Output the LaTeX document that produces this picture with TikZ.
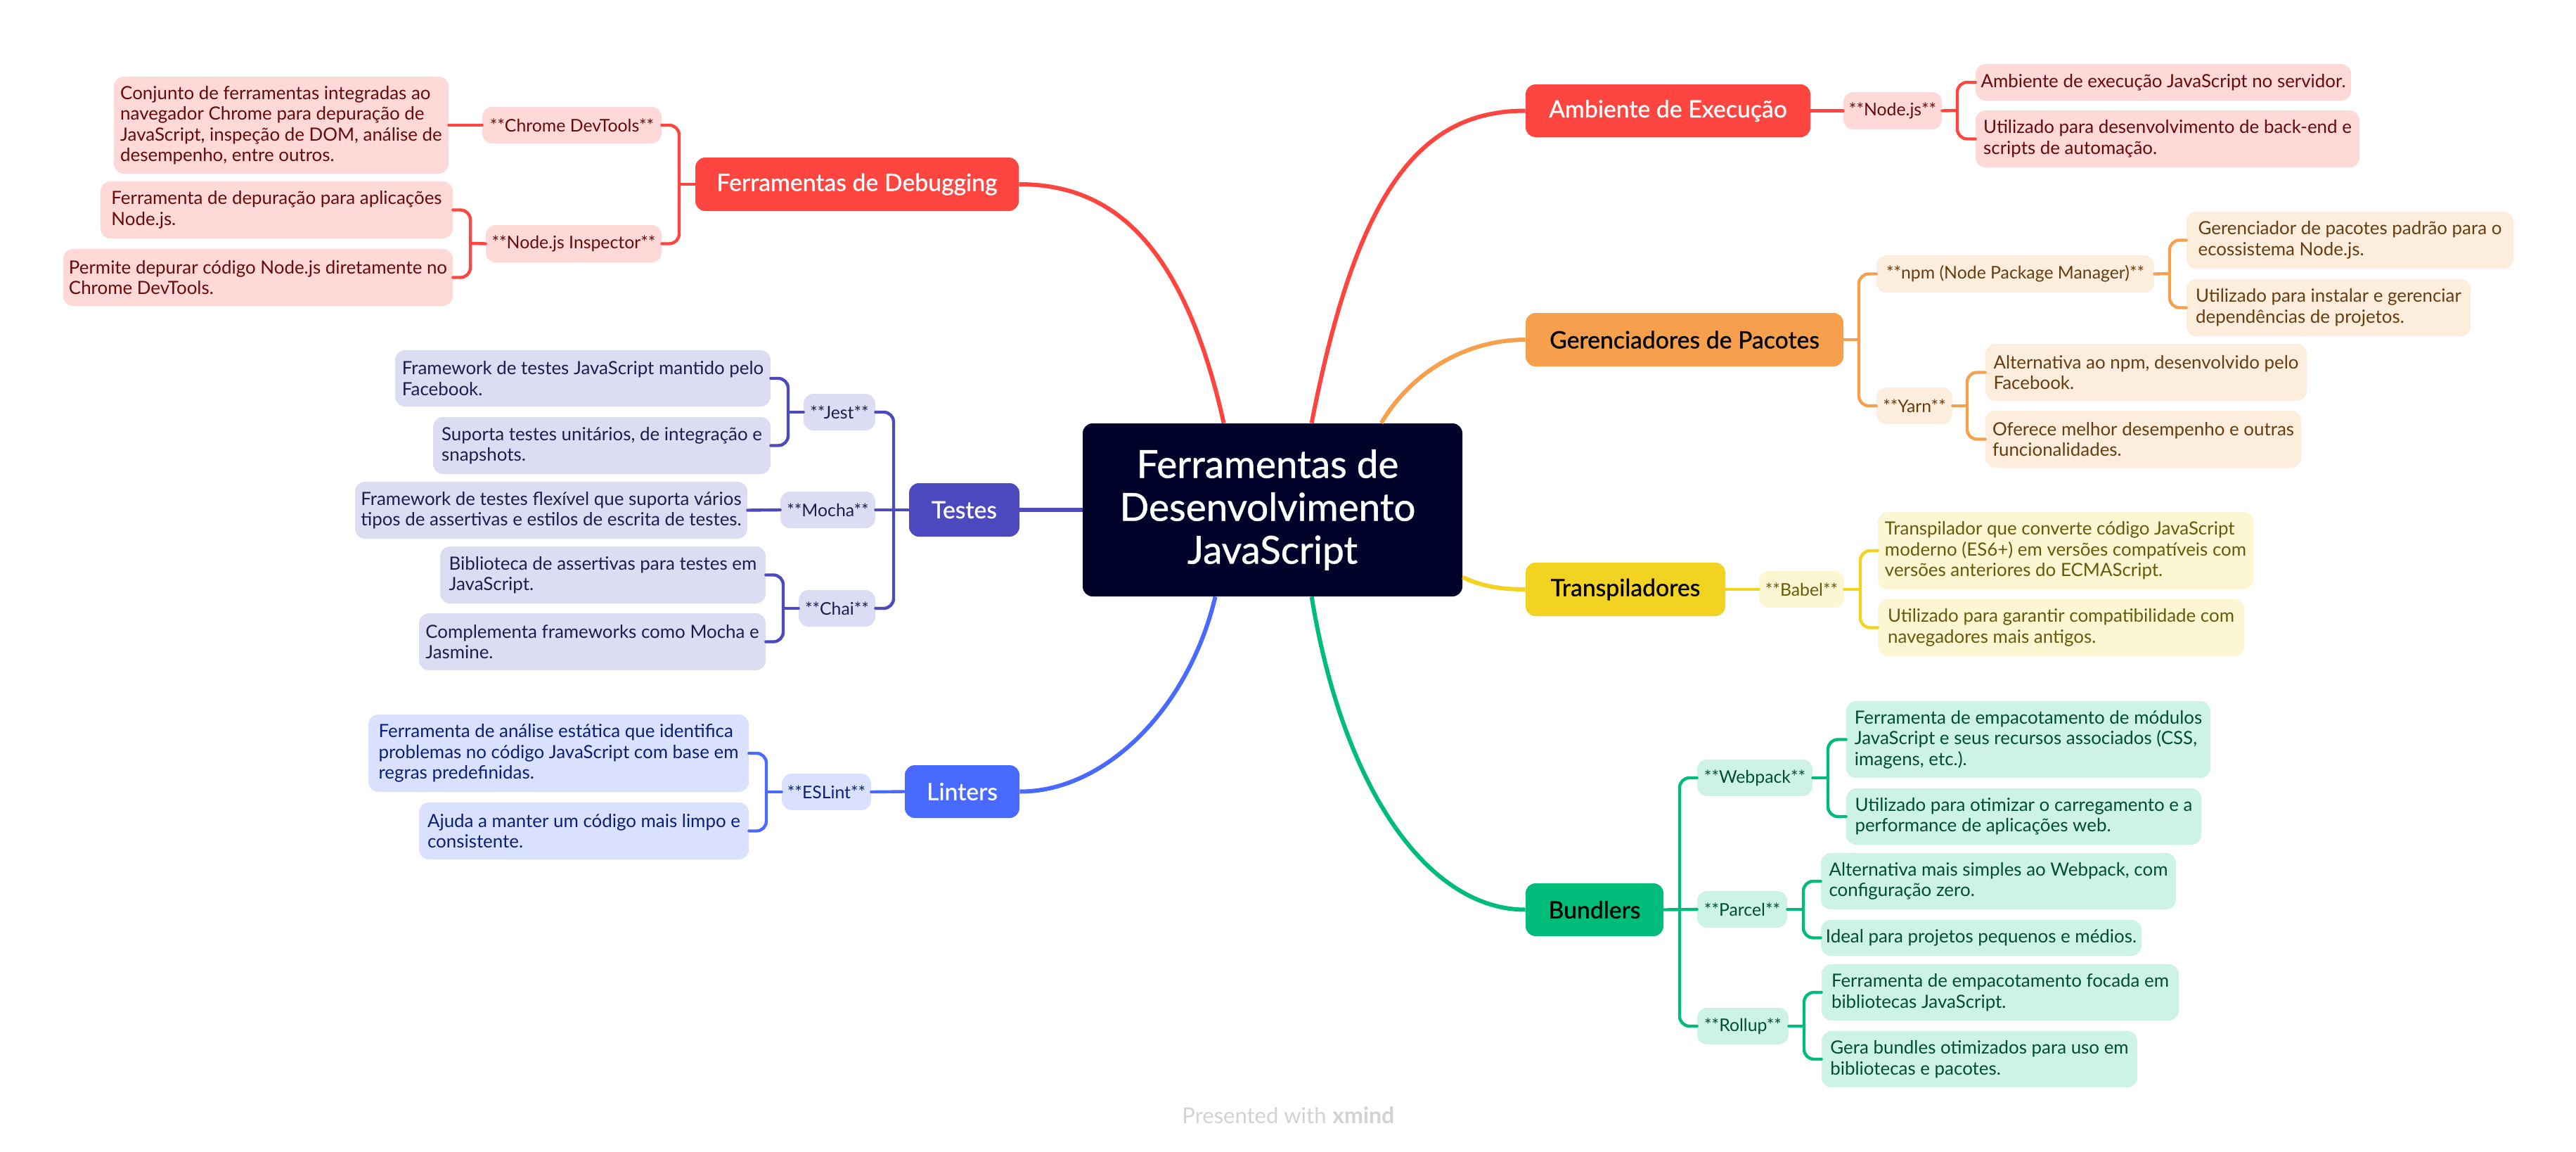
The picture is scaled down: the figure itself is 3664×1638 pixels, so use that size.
\documentclass[tikz,border=0pt]{standalone}
\usepackage{fontspec}
\setmainfont{Lato}
\usetikzlibrary{calc}
\newfontfamily\topicfont[FakeBold=0.9]{Lato}
\definecolor{cred}{HTML}{FF453F}
\definecolor{corange}{HTML}{F6A04D}
\definecolor{cyellow}{HTML}{F3D321}
\definecolor{cgreen}{HTML}{00BC7B}
\definecolor{cindigo}{HTML}{4D49BE}
\definecolor{cblue}{HTML}{486AFF}
\definecolor{cdark}{HTML}{000229}
\definecolor{lred}{HTML}{FFD9D8}
\definecolor{lorange}{HTML}{FDEDDD}
\definecolor{lyellow}{HTML}{FDF6D3}
\definecolor{lgreen}{HTML}{CCF3E3}
\definecolor{lindigo}{HTML}{DCDCF2}
\definecolor{lblue}{HTML}{DAE1FF}
\definecolor{tred}{HTML}{660A0A}
\definecolor{torange}{HTML}{663D10}
\definecolor{tyellow}{HTML}{665A0A}
\definecolor{tgreen}{HTML}{004D33}
\definecolor{tindigo}{HTML}{1F1D4C}
\definecolor{tblue}{HTML}{0A1F78}
\definecolor{cfoot}{HTML}{D2D2D2}
\newcommand{\leaffont}{\fontsize{12.95}{14.75}\selectfont}
\newcommand{\lab}[1]{{\fontsize{12.4}{14.75}\selectfont #1}}
\newcommand{\topfont}{\topicfont\fontsize{16.9}{19}\selectfont}
\newcommand{\bx}[7]{\node[#2,minimum width={(#5-#3)*0.5pt},minimum height={(#6-#4)*0.5pt}] (#1) at ({(#3+#5)/2},{(#4+#6)/2}) {#7};}
\tikzset{
  box/.style={rounded corners=7pt,inner sep=0pt,align=left,font=\leaffont},
  topic/.style={box,font=\topfont,align=center},
  lr/.style={box,fill=lred,text=tred},
  lo/.style={box,fill=lorange,text=torange},
  ly/.style={box,fill=lyellow,text=tyellow},
  lg/.style={box,fill=lgreen,text=tgreen},
  li/.style={box,fill=lindigo,text=tindigo},
  lb/.style={box,fill=lblue,text=tblue},
  link/.style={line width=2.2pt,line cap=round},
  arm/.style={link,rounded corners=7pt},
  main/.style={line width=3pt}
}
\begin{document}
\begin{tikzpicture}[x=0.5pt,y=-0.5pt]
\useasboundingbox (0,0) rectangle (3664,1638);
% central
\bx{central}{box,fill=cdark,text=white,font=\topicfont\fontsize{27.4}{30.5}\selectfont,align=center}{1540}{602}{2080}{848}{\hspace*{-7pt}Ferramentas de\\\hspace*{-7pt}Desenvolvimento\\JavaScript}
% topics
\bx{amb}{topic,fill=cred,text=white}{2170}{120}{2575}{195}{Ambiente de Execução}
\bx{ger}{topic,fill=corange,text=black}{2170}{445}{2622}{521}{Gerenciadores de Pacotes}
\bx{tra}{topic,fill=cyellow,text=black}{2170}{800}{2454}{876}{Transpiladores}
\bx{bun}{topic,fill=cgreen,text=black}{2170}{1256}{2366}{1331}{Bundlers}
\bx{deb}{topic,fill=cred,text=white}{989}{224}{1449}{300}{Ferramentas de Debugging}
\bx{tes}{topic,fill=cindigo,text=white}{1293}{687}{1450}{763}{Testes}
\bx{lin}{topic,fill=cblue,text=white}{1287}{1088}{1450}{1163}{Linters}
% Ambiente
\bx{nodejs}{lr}{2622}{131}{2762}{184}{\lab{**Node.js**}}
\bx{amba}{lr}{2810}{91}{3344}{143}{Ambiente de execução JavaScript no servidor.}
\bx{ambb}{lr}{2810}{157}{3356}{238}{Utilizado para desenvolvimento de back-end e\\scripts de automação.}
% Gerenciadores
\bx{npm}{lo}{2669}{363}{3064}{416}{\lab{**npm (Node Package Manager)**}}
\bx{npma}{lo}{3110}{301}{3575}{382}{Gerenciador de pacotes padrão para o\\ecossistema Node.js.}
\bx{npmb}{lo}{3110}{397}{3514}{478}{Utilizado para instalar e gerenciar\\dependências de projetos.}
\bx{yarn}{lo}{2669}{551}{2777}{603}{\lab{**Yarn**}}
\bx{yarna}{lo}{2824}{489}{3281}{570}{Alternativa ao npm, desenvolvido pelo\\Facebook.}
\bx{yarnb}{lo}{2824}{584}{3273}{665}{Oferece melhor desempenho e outras\\funcionalidades.}
% Transpiladores
\bx{babel}{ly}{2502}{812}{2623}{864}{\lab{**Babel**}}
\bx{babela}{ly}{2671}{728}{3205}{838}{Transpilador que converte código JavaScript\\moderno (ES6+) em versões compatíveis com\\versões anteriores do ECMAScript.}
\bx{babelb}{ly}{2671}{852}{3192}{933}{Utilizado para garantir compatibilidade com\\navegadores mais antigos.}
% Bundlers
\bx{web}{lg}{2414}{1080}{2578}{1132}{\lab{**Webpack**}}
\bx{weba}{lg}{2626}{997}{3144}{1106}{Ferramenta de empacotamento de módulos\\JavaScript e seus recursos associados (CSS,\\imagens, etc.).}
\bx{webb}{lg}{2626}{1121}{3131}{1201}{Utilizado para otimizar o carregamento e a\\performance de aplicações web.}
\bx{par}{lg}{2414}{1267}{2542}{1319}{\lab{**Parcel**}}
\bx{para}{lg}{2590}{1213}{3095}{1293}{Alternativa mais simples ao Webpack, com\\configuração zero.}
\bx{parb}{lg}{2590}{1308}{3046}{1359}{Ideal para projetos pequenos e médios.}
\bx{rol}{lg}{2414}{1433}{2544}{1485}{\lab{**Rollup**}}
\bx{rola}{lg}{2591}{1371}{3099}{1451}{Ferramenta de empacotamento focada em\\bibliotecas JavaScript.}
\bx{rolb}{lg}{2591}{1466}{3040}{1546}{Gera bundles otimizados para uso em\\bibliotecas e pacotes.}
% Debugging
\bx{chr}{lr}{686}{152}{941}{204}{\lab{**Chrome DevTools**}}
\bx{chra}{lr}{162}{109}{638}{247}{Conjunto de ferramentas integradas ao\\navegador Chrome para depuração de\\JavaScript, inspeção de DOM, análise de\\desempenho, entre outros.}
\bx{ins}{lr}{691}{320}{941}{373}{\lab{**Node.js Inspector**}}
\bx{insa}{lr}{143}{258}{644}{339}{Ferramenta de depuração para aplicações\\Node.js.}
\bx{insb}{lr}{90}{354}{644}{435}{Permite depurar código Node.js diretamente no\\Chrome DevTools.}
% Testes
\bx{jest}{li}{1143}{560}{1245}{612}{\lab{**Jest**}}
\bx{jesta}{li}{562}{498}{1096}{578}{Framework de testes JavaScript mantido pelo\\Facebook.}
\bx{jestb}{li}{616}{593}{1096}{674}{Suporta testes unitários, de integração e\\snapshots.}
\bx{moc}{li}{1110}{699}{1245}{751}{\lab{**Mocha**}}
\bx{moca}{li}{505}{685}{1063}{766}{Framework de testes flexível que suporta vários\\tipos de assertivas e estilos de escrita de testes.}
\bx{chai}{li}{1136}{839}{1245}{891}{\lab{**Chai**}}
\bx{chaia}{li}{626}{777}{1089}{858}{Biblioteca de assertivas para testes em\\JavaScript.}
\bx{chaib}{li}{596}{872}{1089}{953}{Complementa frameworks como Mocha e\\Jasmine.}
% Linters
\bx{esl}{lb}{1112}{1100}{1239}{1152}{\lab{**ESLint**}}
\bx{esla}{lb}{524}{1016}{1065}{1126}{Ferramenta de análise estática que identifica\\problemas no código JavaScript com base em\\regras predefinidas.}
\bx{eslb}{lb}{596}{1141}{1065}{1222}{Ajuda a manter um código mais limpo e\\consistente.}
% footer
\node[inner sep=0pt,anchor=base west,text=cfoot,font=\fontsize{15.5}{18}\selectfont] (foot) at (1681,1597) {Presented with};
\node[inner sep=0pt,anchor=base west,text=cfoot,font=\bfseries\fontsize{16}{18}\selectfont] (xm) at (1895,1597) {xmind};
% start points on the central box
\coordinate (sdeb) at ($(central.north west)+(201,0)$);
\coordinate (samb) at ($(central.north west)+(326,0)$);
\coordinate (sger) at ($(central.north west)+(425,0)$);
\coordinate (stra) at ($(central.north east)+(0,219)$);
\coordinate (slin) at ($(central.south west)+(189,0)$);
\coordinate (sbun) at ($(central.south west)+(326,0)$);
% main curves
\draw[main,cred] (samb) .. controls (1930,270) and (2020,157.5) .. (amb.west);
\draw[main,corange] (sger) .. controls (2010,525) and (2090,483) .. (ger.west);
\draw[main,cyellow] (stra) .. controls (2110,835) and (2140,838) .. (tra.west);
\draw[main,cgreen] (sbun) .. controls (1910,1120) and (2030,1293) .. (bun.west);
\draw[main,cred] (sdeb) .. controls (1680,330) and (1570,262) .. (deb.east);
\draw[main,cblue] (slin) .. controls (1690,1010) and (1570,1126) .. (lin.east);
\draw[main,cindigo] (central.west) -- (tes.east);
% Ambiente
\coordinate (bnode) at (2784,157);
\draw[link,cred] (amb.east) -- (nodejs.west);
\draw[link,cred] (nodejs.east) -- (bnode);
\draw[arm,cred] (bnode) |- (amba.west);
\draw[arm,cred] (bnode) |- (ambb.west);
% Gerenciadores
\coordinate (bger) at (2644,483);
\coordinate (bnpm) at (3086,389);
\coordinate (byarn) at (2798,577);
\draw[link,corange] (ger.east) -- (bger);
\draw[arm,corange] (bger) |- (npm.west);
\draw[arm,corange] (bger) |- (yarn.west);
\draw[link,corange] (npm.east) -- (bnpm);
\draw[arm,corange] (bnpm) |- (npma.west);
\draw[arm,corange] (bnpm) |- (npmb.west);
\draw[link,corange] (yarn.east) -- (byarn);
\draw[arm,corange] (byarn) |- (yarna.west);
\draw[arm,corange] (byarn) |- (yarnb.west);
% Transpiladores
\coordinate (bbab) at (2646,838);
\draw[link,cyellow] (tra.east) -- (babel.west);
\draw[link,cyellow] (babel.east) -- (bbab);
\draw[arm,cyellow] (bbab) |- (babela.west);
\draw[arm,cyellow] (bbab) |- (babelb.west);
% Bundlers
\coordinate (bbun) at (2389,1293);
\coordinate (bweb) at (2600,1106);
\coordinate (bpar) at (2565,1293);
\coordinate (brol) at (2566,1459);
\draw[link,cgreen] (bun.east) -- (par.west);
\draw[arm,cgreen] (bbun) |- (web.west);
\draw[arm,cgreen] (bbun) |- (rol.west);
\draw[link,cgreen] (web.east) -- (bweb);
\draw[arm,cgreen] (bweb) |- (weba.west);
\draw[arm,cgreen] (bweb) |- (webb.west);
\draw[link,cgreen] (par.east) -- (bpar);
\draw[arm,cgreen] (bpar) |- (para.west);
\draw[arm,cgreen] (bpar) |- (parb.west);
\draw[link,cgreen] (rol.east) -- (brol);
\draw[arm,cgreen] (brol) |- (rola.west);
\draw[arm,cgreen] (brol) |- (rolb.west);
% Debugging
\coordinate (bdeb) at (966,262);
\coordinate (bins) at (669,346);
\draw[link,cred] (deb.west) -- (bdeb);
\draw[arm,cred] (bdeb) |- (chr.east);
\draw[arm,cred] (bdeb) |- (ins.east);
\draw[link,cred] (chr.west) -- (chra.east);
\draw[link,cred] (ins.west) -- (bins);
\draw[arm,cred] (bins) |- (insa.east);
\draw[arm,cred] (bins) |- (insb.east);
% Testes
\coordinate (btes) at (1271,725);
\coordinate (bjes) at (1121,586);
\coordinate (bcha) at (1114,865);
\draw[link,cindigo] (tes.west) -- (moc.east);
\draw[arm,cindigo] (btes) |- (jest.east);
\draw[arm,cindigo] (btes) |- (chai.east);
\draw[link,cindigo] (moc.west) -- (moca.east);
\draw[link,cindigo] (jest.west) -- (bjes);
\draw[arm,cindigo] (bjes) |- (jesta.east);
\draw[arm,cindigo] (bjes) |- (jestb.east);
\draw[link,cindigo] (chai.west) -- (bcha);
\draw[arm,cindigo] (bcha) |- (chaia.east);
\draw[arm,cindigo] (bcha) |- (chaib.east);
% Linters
\coordinate (besl) at (1090,1126);
\draw[link,cblue] (lin.west) -- (esl.east);
\draw[link,cblue] (esl.west) -- (besl);
\draw[arm,cblue] (besl) |- (esla.east);
\draw[arm,cblue] (besl) |- (eslb.east);
\end{tikzpicture}
\end{document}
